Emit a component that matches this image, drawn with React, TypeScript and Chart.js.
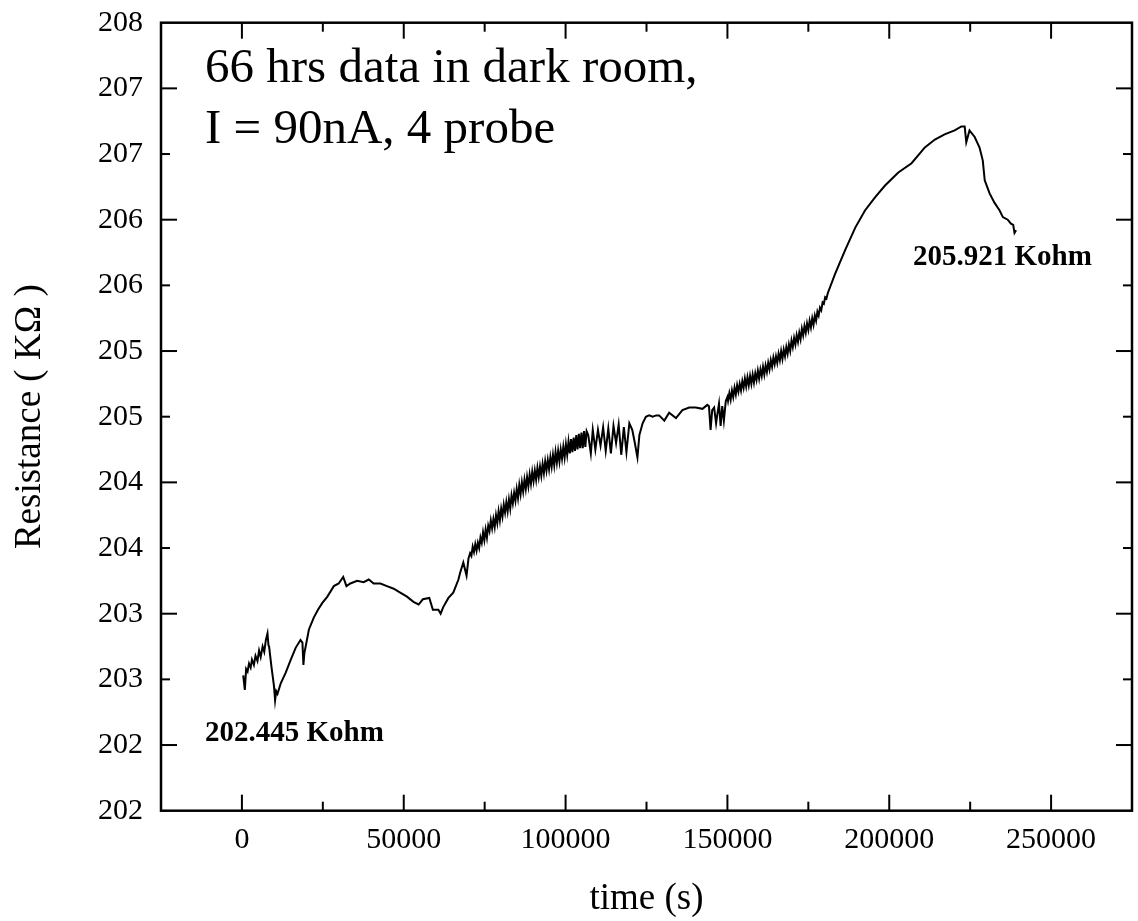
import React, { useEffect, useRef } from "react";
import { Chart, registerables } from "chart.js";

Chart.register(...registerables);

// ---- data (time in s, resistance in kOhm) ----
const timeS: number[] = [
  400, 900, 1300, 1750, 2200, 2700, 3100, 3700, 4200, 4800, 5300, 5800, 6400, 6900, 7400, 7900, 8200, 8400,
  9100, 9900, 10250, 10600, 11000, 12000, 13500, 15100, 16600, 18100, 18700, 19000, 19300, 19700, 20700,
  22200, 23500, 24800, 26400, 28400, 29900, 31300, 32300, 33500, 35600, 37600, 39200, 40700, 42800, 44800,
  46900, 48900, 51000, 53000, 54600, 55900, 57900, 59000, 60700, 61400, 62200, 63800, 65300, 66900, 67400,
  68400, 69400, 70000, 70500,
  70900, 71300, 71700, 72100, 72500, 72900, 73300, 73700, 74100, 74500, 74900, 75300, 75700, 76100, 76500,
  76900, 77300, 77700, 78100, 78500, 78900, 79300, 79700, 80100, 80500, 80900, 81300, 81700, 82100, 82500,
  82900, 83300, 83700, 84100, 84500, 84900, 85300, 85700, 86100, 86500, 86900, 87300, 87700, 88100, 88500,
  88900, 89300, 89700, 90100, 90500, 90900, 91300, 91700, 92100, 92500, 92900, 93300, 93700, 94100, 94500,
  94900, 95300, 95700, 96100, 96500, 96900, 97300, 97700, 98100, 98500, 98900, 99300, 99700, 100100, 100500,
  100900, 101300, 101700, 102100, 102500, 102900, 103300, 103700, 104100, 104500, 104900, 105300, 105700,
  106100, 106500,
  107000, 107800, 108400, 109200, 110000, 110800, 111600, 112400, 113200, 114000, 114800, 115600, 116400,
  117200, 118000, 118800, 119700, 120600, 121400, 122200, 122800, 123800, 124800, 125800, 126900, 128000,
  128900, 130500, 132000, 134100, 136100, 138200, 140200, 142300, 143800, 144300, 144800, 145300, 145900,
  146500, 146900, 147400, 147900, 148400, 148900, 149500, 150000,
  150200, 150600, 151000, 151400, 151800, 152200, 152600, 153000, 153400, 153800, 154200, 154600, 155000,
  155400, 155800, 156200, 156600, 157000, 157400, 157800, 158200, 158600, 159000, 159400, 159800, 160200,
  160600, 161000, 161400, 161800, 162200, 162600, 163000, 163400, 163800, 164200, 164600, 165000, 165400,
  165800, 166200, 166600, 167000, 167400, 167800, 168200, 168600, 169000, 169400, 169800, 170200, 170600,
  171000, 171400, 171800, 172200, 172600, 173000, 173400, 173800, 174200, 174600, 175000, 175400, 175800,
  176200, 176600, 177000, 177400, 177800, 178200, 178600, 179000, 179400, 179800, 180200, 180600, 181000,
  183300, 186400, 189500, 192500, 195600, 198700, 202800, 206900, 211000, 214100, 217100, 220200, 222300,
  223300, 223800, 224800, 226400, 227900, 228900, 229500, 231000, 232500, 234100, 235100, 236600, 237600,
  238300, 238700, 239200,
];

const resistanceKOhm: number[] = [
  202.53, 202.42, 202.58, 202.56, 202.62, 202.59, 202.65, 202.61, 202.68, 202.64, 202.72, 202.67, 202.75,
  202.71, 202.8, 202.85, 202.76, 202.75, 202.6, 202.45, 202.34, 202.41, 202.39, 202.47, 202.55, 202.65,
  202.74, 202.8, 202.78, 202.61, 202.7, 202.75, 202.88, 202.97, 203.03, 203.08, 203.13, 203.21, 203.23,
  203.28, 203.21, 203.23, 203.25, 203.24, 203.26, 203.23, 203.23, 203.21, 203.19, 203.16, 203.13, 203.09,
  203.07, 203.11, 203.12, 203.03, 203.03, 203.0, 203.05, 203.12, 203.16, 203.26, 203.31, 203.39, 203.29,
  203.42, 203.46,
  203.44, 203.51, 203.47, 203.53, 203.48, 203.54, 203.5, 203.58, 203.54, 203.62, 203.56, 203.64, 203.58,
  203.67, 203.63, 203.71, 203.65, 203.72, 203.66, 203.75, 203.69, 203.78, 203.71, 203.8, 203.74, 203.83,
  203.77, 203.85, 203.78, 203.87, 203.8, 203.9, 203.84, 203.92, 203.86, 203.95, 203.88, 203.98, 203.91,
  204.0, 203.93, 204.02, 203.95, 204.04, 203.97, 204.06, 203.99, 204.08, 204.01, 204.09, 204.02, 204.11,
  204.04, 204.12, 204.05, 204.14, 204.07, 204.16, 204.09, 204.17, 204.1, 204.19, 204.12, 204.21, 204.13,
  204.23, 204.15, 204.24, 204.16, 204.25, 204.18, 204.27, 204.19, 204.29, 204.21, 204.31, 204.22, 204.33,
  204.23, 204.34, 204.24, 204.36, 204.25, 204.37, 204.26, 204.38, 204.26, 204.39, 204.27, 204.39,
  204.36, 204.22, 204.4, 204.25, 204.4, 204.28, 204.42, 204.24, 204.41, 204.22, 204.43, 204.3, 204.44,
  204.21, 204.42, 204.23, 204.45, 204.4, 204.3, 204.19, 204.36, 204.45, 204.5, 204.51, 204.5, 204.51,
  204.51, 204.47, 204.53, 204.49, 204.55, 204.57, 204.57, 204.56, 204.59, 204.58, 204.4, 204.55, 204.57,
  204.45, 204.52, 204.6, 204.43, 204.58, 204.47, 204.62, 204.65,
  204.62, 204.68, 204.63, 204.7, 204.65, 204.72, 204.67, 204.74, 204.69, 204.75, 204.7, 204.77, 204.72,
  204.79, 204.73, 204.8, 204.74, 204.81, 204.75, 204.82, 204.76, 204.83, 204.78, 204.85, 204.79, 204.86,
  204.81, 204.88, 204.82, 204.89, 204.84, 204.91, 204.86, 204.93, 204.88, 204.95, 204.9, 204.96, 204.91,
  204.98, 204.93, 205.0, 204.94, 205.01, 204.96, 205.03, 204.98, 205.05, 205.0, 205.08, 205.03, 205.1,
  205.05, 205.12, 205.07, 205.14, 205.09, 205.17, 205.12, 205.19, 205.14, 205.21, 205.16, 205.23, 205.18,
  205.25, 205.2, 205.27, 205.23, 205.3, 205.27, 205.33, 205.31, 205.37, 205.36, 205.41, 205.4, 205.44,
  205.59, 205.77, 205.94, 206.07, 206.17, 206.26, 206.36, 206.43, 206.55, 206.61, 206.65, 206.68, 206.71,
  206.71, 206.59, 206.68, 206.63, 206.55, 206.45, 206.3, 206.2, 206.13, 206.07, 206.02, 206.0, 205.97,
  205.96, 205.9, 205.92,
];

// ---- axes ----
const xTickValues: number[] = [0, 50000, 100000, 150000, 200000, 250000];
const xTickLabels: string[] = ["0", "50000", "100000", "150000", "200000", "250000"];
const xMinorTicks: number[] = [25000, 75000, 125000, 175000, 225000];
const yTickValues: number[] = [201.5, 202, 202.5, 203, 203.5, 204, 204.5, 205, 205.5, 206, 206.5, 207, 207.5];
const yTickLabels: string[] = ["202", "202", "203", "203", "204", "204", "205", "205", "206", "206", "207", "207", "208"];
const yMajorTicks: number[] = [202, 203, 204, 205, 206, 207];
const yMinorTicks: number[] = [202.5, 203.5, 204.5, 205.5, 206.5];

const titleLines: string[] = ["66 hrs data in dark room,", "I = 90nA, 4 probe"];
const startNote = "202.445 Kohm";
const endNote = "205.921 Kohm";

const SERIF = '"Liberation Serif", "Times New Roman", serif';

const frameTicks = {
  id: "frameTicks",
  afterDraw(chart: any) {
    const { ctx, chartArea: a, scales } = chart;
    const x = scales.x;
    const y = scales.y;
    const LONG = 16;
    const SHORT = 9;
    ctx.save();
    ctx.strokeStyle = "#000";
    ctx.lineWidth = 2;
    const seg = (x1: number, y1: number, x2: number, y2: number) => {
      ctx.beginPath();
      ctx.moveTo(x1, y1);
      ctx.lineTo(x2, y2);
      ctx.stroke();
    };
    xTickValues.forEach((v) => {
      const px = x.getPixelForValue(v);
      seg(px, a.bottom, px, a.bottom - LONG);
      seg(px, a.top, px, a.top + LONG);
    });
    xMinorTicks.forEach((v) => {
      const px = x.getPixelForValue(v);
      seg(px, a.bottom, px, a.bottom - SHORT);
      seg(px, a.top, px, a.top + SHORT);
    });
    yMajorTicks.forEach((v) => {
      const py = y.getPixelForValue(v);
      seg(a.left, py, a.left + LONG, py);
      seg(a.right, py, a.right - LONG, py);
    });
    yMinorTicks.forEach((v) => {
      const py = y.getPixelForValue(v);
      seg(a.left, py, a.left + SHORT, py);
      seg(a.right, py, a.right - SHORT, py);
    });
    ctx.lineWidth = 2.5;
    ctx.strokeRect(a.left, a.top, a.right - a.left, a.bottom - a.top);

    ctx.fillStyle = "#000";
    ctx.textAlign = "left";
    ctx.textBaseline = "alphabetic";
    ctx.font = `49px ${SERIF}`;
    ctx.fillText(titleLines[0], a.left + 44, a.top + 59);
    ctx.fillText(titleLines[1], a.left + 44, a.top + 120);
    ctx.font = `bold 29px ${SERIF}`;
    ctx.fillText(startNote, a.left + 44, a.top + 718);
    ctx.fillText(endNote, a.left + 752, a.top + 242);
    ctx.restore();
  },
};

export default function App() {
  const canvasRef = useRef<HTMLCanvasElement | null>(null);

  useEffect(() => {
    const canvas = canvasRef.current;
    if (!canvas) return;
    const chart = new Chart(canvas, {
      type: "line",
      data: {
        datasets: [
          {
            label: "Resistance",
            data: timeS.map((t, i) => ({ x: t, y: resistanceKOhm[i] })),
            borderColor: "#000",
            borderWidth: 2,
            pointRadius: 0,
            tension: 0,
            fill: false,
          },
        ],
      },
      options: {
        responsive: false,
        animation: false,
        devicePixelRatio: 1,
        layout: { padding: { top: 22.7, right: 6, left: 0, bottom: 0 } },
        plugins: { legend: { display: false }, tooltip: { enabled: false } },
        scales: {
          x: {
            type: "linear",
            min: -25000,
            max: 275000,
            grid: { display: false, drawTicks: false },
            border: { display: false },
            afterBuildTicks: (scale: any) => {
              scale.ticks = xTickValues.map((v) => ({ value: v }));
            },
            afterFit: (scale: any) => {
              scale.height = 110.3;
              scale.paddingLeft = 0;
              scale.paddingRight = 0;
            },
            ticks: {
              autoSkip: false,
              maxRotation: 0,
              padding: 11,
              color: "#000",
              font: { family: SERIF, size: 30 },
              callback: (_v: any, i: number) => xTickLabels[i],
            },
            title: {
              display: true,
              text: "time (s)",
              color: "#000",
              font: { family: SERIF, size: 37 },
              padding: { top: 0, bottom: 0 },
            },
          },
          y: {
            type: "linear",
            min: 201.5,
            max: 207.5,
            grid: { display: false, drawTicks: false },
            border: { display: false },
            afterBuildTicks: (scale: any) => {
              scale.ticks = yTickValues.map((v) => ({ value: v }));
            },
            afterFit: (scale: any) => {
              scale.width = 161;
              scale.paddingTop = 0;
              scale.paddingBottom = 0;
            },
            ticks: {
              autoSkip: false,
              padding: 18,
              color: "#000",
              font: { family: SERIF, size: 30 },
              callback: (_v: any, i: number) => yTickLabels[i],
            },
            title: {
              display: true,
              text: "Resistance ( KΩ )",
              color: "#000",
              font: { family: SERIF, size: 37 },
              padding: { top: 8.5, bottom: 0 },
            },
          },
        },
      },
      plugins: [frameTicks],
    });
    return () => chart.destroy();
  }, []);

  return (
    <div style={{ position: "absolute", left: 0, top: 0, width: 1138, height: 921, background: "#fff" }}>
      <canvas ref={canvasRef} width={1138} height={921} style={{ width: 1138, height: 921 }} />
    </div>
  );
}
